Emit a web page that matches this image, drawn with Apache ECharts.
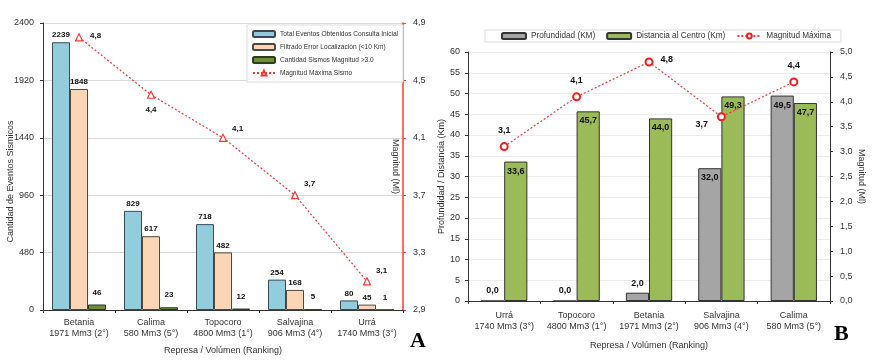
<!DOCTYPE html>
<html>
<head>
<meta charset="utf-8">
<script src="https://cdn.jsdelivr.net/npm/echarts@6/dist/echarts.min.js"></script>
<style>
  html, body { margin: 0; padding: 0; background: #fff; }
  #chart { width: 884px; height: 360px; }
</style>
</head>
<body>
<div id="chart"></div>
<script>
    // Grafico A
    const catsA = ['Betania\n1971 Mm3 (2°)', 'Calima\n580 Mm3 (5°)', 'Topocoro\n4800 Mm3 (1°)', 'Salvajina\n906 Mm3 (4°)', 'Urrá\n1740 Mm3 (3°)'];
    const totalEventos = [2239, 829, 718, 254, 80];
    const filtrado = [1848, 617, 482, 168, 45];
    const sismosMayor3 = [46, 23, 12, 5, 1];
    const magnitudA = [4.8, 4.4, 4.1, 3.7, 3.1];

    // Grafico B
    const catsB = ['Urrá\n1740 Mm3 (3°)', 'Topocoro\n4800 Mm3 (1°)', 'Betania\n1971 Mm3 (2°)', 'Salvajina\n906 Mm3 (4°)', 'Calima\n580 Mm3 (5°)'];
    const profundidad = [0.0, 0.0, 2.0, 32.0, 49.5];
    const distancia = [33.6, 45.7, 44.0, 49.3, 47.7];
    const magnitudB = [3.1, 4.1, 4.8, 3.7, 4.4];

    const font = 'Liberation Sans';
    const coma = v => Number(v).toFixed(1).replace('.', ',');

    const chart = echarts.init(document.getElementById('chart'));

    const axisTxt = { color: '#333', fontSize: 9, fontFamily: font };
    const barLabel = { show: true, position: 'top', color: '#111', fontSize: 8, fontWeight: 'bold', fontFamily: font, distance: 3 };

    // posiciones de etiquetas de la linea A
    const labA = [
        { position: 'right', offset: [2, -2] },
        { position: 'bottom', offset: [0, 2] },
        { position: 'right', offset: [0, -9] },
        { position: 'right', offset: [0, -11] },
        { position: 'right', offset: [0, -11] }
    ];
    const labB = [
        { position: 'top', offset: [0, -2] },
        { position: 'top', offset: [0, -2] },
        { position: 'right', offset: [2, -2] },
        { position: 'left', offset: [-4, 8] },
        { position: 'top', offset: [0, -2] }
    ];

    const option = {
        animation: false,
        textStyle: { fontFamily: font },
        grid: [
            { left: 43, right: 481, top: 23, bottom: 50 },
            { left: 468, right: 54, top: 52, bottom: 59 }
        ],
        legend: [
            {
                data: ['Total Eventos Obtenidos Consulta Inicial', 'Filtrado Error Localización (<10 Km)', 'Cantidad Sismos Magnitud >3.0', 'Magnitud Máxima Sismo'],
                orient: 'vertical',
                left: 247, top: 25,
                itemWidth: 22, itemHeight: 6, itemGap: 5,
                padding: [5, 5, 5, 5],
                backgroundColor: '#fff',
                borderColor: '#ddd', borderWidth: 1,
                textStyle: { fontSize: 6.6, color: '#333', fontFamily: font, padding: [0, 0, 0, 0], height: 8, lineHeight: 8 }
            },
            {
                data: ['Profundidad (KM)', 'Distancia al Centro (Km)', 'Magnitud Máxima'],
                left: 485, top: 30,
                width: 420,
                itemWidth: 24, itemHeight: 6, itemGap: 11,
                padding: [2, 10, 2, 16],
                backgroundColor: '#fff',
                borderColor: '#ddd', borderWidth: 1,
                textStyle: { fontSize: 8.2, color: '#333', fontFamily: font }
            }
        ],
        xAxis: [
            {
                type: 'category', gridIndex: 0, data: catsA,
                name: 'Represa / Volúmen (Ranking)', nameLocation: 'middle', nameGap: 36,
                nameTextStyle: { fontSize: 9, color: '#333', fontFamily: font },
                axisLine: { lineStyle: { color: '#333' } },
                axisTick: { show: true, length: 3, lineStyle: { color: '#333' } },
                axisLabel: Object.assign({ margin: 7, lineHeight: 11, interval: 0 }, axisTxt)
            },
            {
                type: 'category', gridIndex: 1, data: catsB,
                name: 'Represa / Volúmen (Ranking)', nameLocation: 'middle', nameGap: 40,
                nameTextStyle: { fontSize: 9, color: '#333', fontFamily: font },
                axisLine: { lineStyle: { color: '#333' } },
                axisTick: { show: true, length: 3, lineStyle: { color: '#333' } },
                axisLabel: Object.assign({ margin: 9, lineHeight: 11, interval: 0 }, axisTxt)
            }
        ],
        yAxis: [
            {
                type: 'value', gridIndex: 0, min: 0, max: 2400, interval: 480,
                name: 'Cantidad de Eventos Sismicos', nameLocation: 'middle', nameGap: 28,
                nameMoveOverlap: false,
                nameTextStyle: { fontSize: 9, color: '#333', fontFamily: font, padding: [0, 30, 0, 0] },
                axisLine: { show: true, lineStyle: { color: '#333' } },
                axisTick: { show: true, length: 3, inside: false },
                axisLabel: Object.assign({ margin: 9, formatter: v => String(v) }, axisTxt),
                splitLine: { lineStyle: { color: '#d9d9d9' } }
            },
            {
                type: 'value', gridIndex: 0, min: 2.9, max: 4.9, interval: 0.4, position: 'right',
                name: 'Magnitud (Ml)', nameLocation: 'middle', nameGap: -12, nameRotate: -90,
                nameTextStyle: { fontSize: 9, color: '#333', fontFamily: font },
                axisLine: { show: true, lineStyle: { color: '#ff3b3b', width: 1.5 } },
                axisTick: { show: true, length: 3, lineStyle: { color: '#ff3b3b' } },
                axisLabel: Object.assign({ margin: 10, formatter: v => coma(v) }, axisTxt),
                splitLine: { show: false }
            },
            {
                type: 'value', gridIndex: 1, min: 0, max: 60, interval: 5,
                name: 'Profundidad / Distancia (Km)', nameLocation: 'middle', nameGap: 22,
                nameTextStyle: { fontSize: 9, color: '#333', fontFamily: font },
                axisLine: { show: true, lineStyle: { color: '#333' } },
                axisTick: { show: true, length: 3 },
                axisLabel: Object.assign({ margin: 8 }, axisTxt),
                splitLine: { lineStyle: { color: '#ececec' } }
            },
            {
                type: 'value', gridIndex: 1, min: 0, max: 5, interval: 0.5, position: 'right',
                name: 'Magnitud (Ml)', nameLocation: 'middle', nameGap: 27, nameRotate: -90,
                nameTextStyle: { fontSize: 9, color: '#333', fontFamily: font },
                axisLine: { show: true, lineStyle: { color: '#333' } },
                axisTick: { show: true, length: 3 },
                axisLabel: Object.assign({ margin: 10, formatter: v => coma(v) }, axisTxt),
                splitLine: { show: false }
            }
        ],
        series: [
            {
                name: 'Total Eventos Obtenidos Consulta Inicial', type: 'bar',
                xAxisIndex: 0, yAxisIndex: 0, data: totalEventos,
                barGap: '0%', barCategoryGap: '25%',
                itemStyle: { color: '#93cddd', borderColor: '#3a4a55', borderWidth: 1 },
                label: barLabel
            },
            {
                name: 'Filtrado Error Localización (<10 Km)', type: 'bar',
                xAxisIndex: 0, yAxisIndex: 0, data: filtrado,
                itemStyle: { color: '#fcd5b4', borderColor: '#4a4a40', borderWidth: 1 },
                label: barLabel
            },
            {
                name: 'Cantidad Sismos Magnitud >3.0', type: 'bar',
                xAxisIndex: 0, yAxisIndex: 0, data: sismosMayor3,
                itemStyle: { color: '#6e9035', borderColor: '#2f3a20', borderWidth: 1 },
                label: Object.assign({}, barLabel, { distance: 8 })
            },
            {
                name: 'Magnitud Máxima Sismo', type: 'line',
                xAxisIndex: 0, yAxisIndex: 1,
                data: magnitudA.map((v, i) => ({ value: v, label: labA[i] })),
                symbol: 'triangle', symbolSize: 7,
                itemStyle: { color: '#fff', borderColor: '#f03a3a', borderWidth: 1.2 },
                lineStyle: { color: '#f03a3a', width: 1.2, type: [2, 2] },
                label: { show: true, color: '#111', fontSize: 8, fontWeight: 'bold', fontFamily: font, formatter: p => coma(p.value) }
            },
            {
                name: 'Profundidad (KM)', type: 'bar',
                xAxisIndex: 1, yAxisIndex: 2,
                data: profundidad.map(v => ({ value: v, label: { position: v > 10 ? 'insideTop' : 'top' } })),
                barGap: '0%', barCategoryGap: '36%',
                itemStyle: { color: '#a5a5a5', borderColor: '#333', borderWidth: 1 },
                label: { show: true, color: '#111', fontSize: 9, fontWeight: 'bold', fontFamily: font, distance: 5, formatter: p => coma(p.value) }
            },
            {
                name: 'Distancia al Centro (Km)', type: 'bar',
                xAxisIndex: 1, yAxisIndex: 2, data: distancia,
                itemStyle: { color: '#9bbb59', borderColor: '#333', borderWidth: 1 },
                label: { show: true, position: 'insideTop', color: '#111', fontSize: 9, fontWeight: 'bold', fontFamily: font, distance: 5, formatter: p => coma(p.value) }
            },
            {
                name: 'Magnitud Máxima', type: 'line',
                xAxisIndex: 1, yAxisIndex: 3,
                data: magnitudB.map((v, i) => ({ value: v, label: labB[i] })),
                symbol: 'circle', symbolSize: 7,
                itemStyle: { color: '#fff', borderColor: '#f01e1e', borderWidth: 2 },
                lineStyle: { color: '#f03a3a', width: 1.2, type: [2, 2] },
                label: { show: true, color: '#111', fontSize: 9, fontWeight: 'bold', fontFamily: font, formatter: p => coma(p.value) }
            }
        ],
        graphic: [
            { type: 'text', left: 410, top: 330, style: { text: 'A', font: 'bold 22px "Liberation Serif"', fill: '#000' } },
            { type: 'text', left: 834, top: 323, style: { text: 'B', font: 'bold 22px "Liberation Serif"', fill: '#000' } }
        ]
    };

    chart.setOption(option);
</script>
</body>
</html>
